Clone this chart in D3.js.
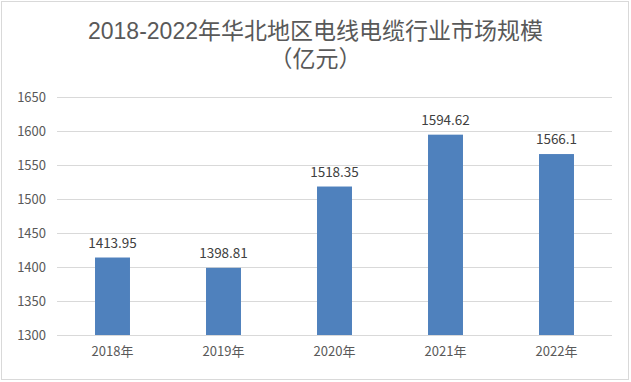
<!DOCTYPE html>
<html><head><meta charset="utf-8">
<script src="https://cdn.jsdelivr.net/npm/d3@7"></script>
<style>
body{margin:0;background:#fff;}
svg{display:block;}
</style></head><body>
<svg id="c" width="631" height="382"></svg>
<script>
const categories = ["2018年","2019年","2020年","2021年","2022年"];
const values = [1413.95, 1398.81, 1518.35, 1594.62, 1566.1];
const valueLabels = ["1413.95","1398.81","1518.35","1594.62","1566.1"];
const yTicks = [1300,1350,1400,1450,1500,1550,1600,1650];
const titleLines = ["2018-2022年华北地区电线电缆行业市场规模","（亿元）"];

(function(){
const svg = d3.select("#c");
const W = 631, H = 382;
const font = "'Noto Sans CJK SC', 'Noto Sans', sans-serif";
const titleFont = "'Liberation Sans', 'Noto Sans CJK SC', sans-serif";
svg.append("rect").attr("x",1.5).attr("y",1.5).attr("width",W-4).attr("height",H-4)
  .attr("fill","#fff").attr("stroke","#d9d9d9").attr("stroke-width",1);

const mLeft = 57, mRight = 612, mTop = 97, mBottom = 335;
const x = d3.scaleBand().domain(categories).range([mLeft,mRight]).paddingInner(0.685).paddingOuter(0.3425);
const y = d3.scaleLinear().domain([1300,1650]).range([mBottom,mTop]);

svg.selectAll("text.title").data(titleLines).enter().append("text")
  .attr("x", W/2).attr("y",(d,i)=>39+i*28).attr("text-anchor","middle")
  .attr("font-family",titleFont).attr("font-size",23).attr("fill","#595959").text(d=>d);

const yAxis = d3.axisLeft(y).tickValues(yTicks).tickFormat(d3.format("d")).tickSize(-(mRight-mLeft)).tickPadding(10);
const ga = svg.append("g").attr("transform",`translate(${mLeft},0)`).call(yAxis);
ga.select(".domain").remove();
ga.selectAll(".tick line").attr("stroke","#d9d9d9").attr("stroke-width",1);
ga.selectAll(".tick text").attr("font-family",font).attr("font-size",13).attr("fill","#595959").attr("x",-11);

svg.selectAll("rect.bar").data(values).enter().append("rect")
  .attr("x",(d,i)=>x(categories[i])).attr("width",x.bandwidth())
  .attr("y",d=>y(d)).attr("height",d=>mBottom-y(d)).attr("fill","#4f81bd");

svg.selectAll("text.vl").data(values).enter().append("text")
  .attr("x",(d,i)=>x(categories[i])+x.bandwidth()/2).attr("y",d=>y(d)-10)
  .attr("text-anchor","middle").attr("font-family",font).attr("font-size",13.5).attr("fill","#404040")
  .text((d,i)=>valueLabels[i]);

const xAxis = d3.axisBottom(x).tickSize(0).tickPadding(12);
const gx = svg.append("g").attr("transform",`translate(0,${mBottom})`).call(xAxis);
gx.select(".domain").remove();
gx.selectAll(".tick text").attr("font-family",font).attr("font-size",13).attr("fill","#595959");
})();
</script></body></html>
